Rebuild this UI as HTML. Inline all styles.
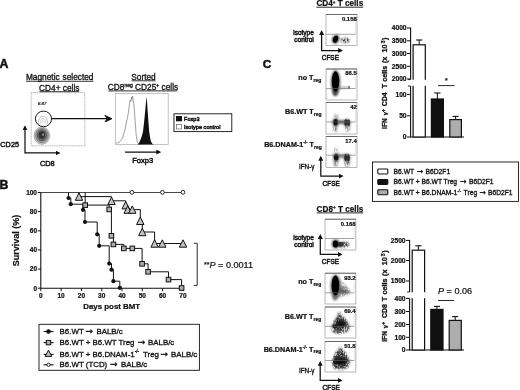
<!DOCTYPE html>
<html><head><meta charset="utf-8"><title>Figure</title>
<style>
html,body{margin:0;padding:0;background:#fff;}
body{width:520px;height:390px;overflow:hidden;}
svg{display:block;filter:blur(0.35px);font-family:"Liberation Sans",sans-serif;fill:#111;}
text{stroke:#111;stroke-width:0.22px;}
.sb{stroke-width:0.45px;}
.sl{stroke-width:0.32px;}
.yl{stroke-width:0.3px;}
.pl{stroke-width:0.5px;}
.ar{font-family:"DejaVu Sans",sans-serif;stroke-width:0.3px;font-size:1.15em;}
.b{font-weight:bold}
.u{text-decoration:underline}
</style></head><body>
<svg width="520" height="390" viewBox="0 0 520 390">
<defs>
<filter id="bl1" x="-50%" y="-50%" width="200%" height="200%"><feGaussianBlur stdDeviation="0.9"/></filter>
<filter id="bl2" x="-50%" y="-50%" width="200%" height="200%"><feGaussianBlur stdDeviation="1.8"/></filter>
<filter id="bl0" x="-50%" y="-50%" width="200%" height="200%"><feGaussianBlur stdDeviation="0.45"/></filter>
<filter id="gr" x="-50%" y="-50%" width="200%" height="200%"><feGaussianBlur stdDeviation="0.8" result="b"/><feTurbulence type="fractalNoise" baseFrequency="1.1 0.45" numOctaves="2" seed="7" result="n"/><feColorMatrix in="n" type="matrix" values="0 0 0 0 0  0 0 0 0 0  0 0 0 0 0  0 0 0 2.2 -0.45" result="na"/><feComposite in="b" in2="na" operator="in"/></filter>
<marker id="ah" viewBox="0 0 10 10" refX="6" refY="5" markerWidth="5" markerHeight="5" orient="auto-start-reverse" markerUnits="userSpaceOnUse"><path d="M0,0 L10,5 L0,10 z" fill="#111"/></marker>
<marker id="ah2" viewBox="0 0 10 10" refX="9" refY="5" markerWidth="7.5" markerHeight="7.5" orient="auto-start-reverse" markerUnits="userSpaceOnUse"><path d="M0.5,0.5 L10,5 L0.5,9.5 L3.6,5 z" fill="#111" stroke="#111" stroke-width="1.1" stroke-linejoin="round"/></marker>
</defs>
<rect width="520" height="390" fill="#fff"/>

<!-- ============ PANEL A ============ -->
<g id="panelA">
<text x="-0.6" y="68.1" class="b pl" font-size="12.3">A</text>
<text x="59.7" y="80.1" font-size="8.3" text-anchor="middle" class="sl" word-spacing="0.6">Magnetic selected</text>
<line x1="26" y1="81.3" x2="93.4" y2="81.3" stroke="#111" stroke-width="0.85"/>
<text x="59.3" y="90.6" font-size="8.3" text-anchor="middle" class="sl">CD4+ cells</text>
<line x1="39.4" y1="91.7" x2="79.2" y2="91.7" stroke="#111" stroke-width="0.85"/>
<rect x="31.2" y="92.6" width="53.6" height="53.2" fill="none" stroke="#999" stroke-width="0.7" stroke-dasharray="1.2 0.6"/>
<text x="38" y="104.6" font-size="4.3" font-style="italic">8.87</text>
<!-- lower population -->
<g>
<ellipse cx="41.9" cy="135.6" rx="7.9" ry="8.8" fill="#c4c4c4" stroke="#888" stroke-width="0.5"/>
<ellipse cx="41.9" cy="135.5" rx="6.4" ry="7.2" fill="#999" stroke="#666" stroke-width="0.5"/>
<ellipse cx="41.9" cy="135.3" rx="4.8" ry="5.6" fill="#666" stroke="#444" stroke-width="0.5"/>
<ellipse cx="41.9" cy="135.1" rx="3.2" ry="3.8" fill="#333"/>
<ellipse cx="43" cy="134.7" rx="0.7" ry="1.1" fill="#ccc"/>
</g>
<!-- gate population -->
<path d="M38.3,123.9 C38.3,113.8 47.6,113.8 47.6,123.9" fill="none" stroke="#999" stroke-width="0.6"/>
<path d="M40.3,123.6 C40.3,116.6 45.5,116.6 45.5,123.6" fill="none" stroke="#aaa" stroke-width="0.5"/>
<path d="M41.8,123 C41.8,119.5 44.2,119.5 44.2,123" fill="none" stroke="#bbb" stroke-width="0.5"/>
<ellipse cx="43.5" cy="118.9" rx="8.1" ry="7.8" fill="none" stroke="#111" stroke-width="0.95"/>
<line x1="51.6" y1="118.7" x2="111.2" y2="118.7" stroke="#111" stroke-width="1.25" marker-end="url(#ah2)"/>
<!-- axes -->
<polyline points="25,127.3 25,152.9 58.5,152.9" fill="none" stroke="#111" stroke-width="1.25" marker-start="url(#ah)" marker-end="url(#ah)"/>
<text x="0.3" y="146.9" font-size="7.35" class="sb">CD25</text>
<text x="40" y="165.8" font-size="7.35" class="sb">CD8</text>

<text x="143.5" y="79.6" font-size="8.3" text-anchor="middle" class="sl">Sorted</text>
<line x1="131.6" y1="80.8" x2="155.4" y2="80.8" stroke="#111" stroke-width="0.85"/>
<text x="143" y="90" font-size="8.3" text-anchor="middle" class="sl">CD8<tspan font-size="5" dy="-2.6">neg</tspan><tspan dy="2.6"> CD25</tspan><tspan font-size="5" dy="-2.6">+</tspan><tspan dy="2.6"> cells</tspan></text>
<line x1="108.3" y1="90.9" x2="177.3" y2="90.9" stroke="#111" stroke-width="0.9"/>
<rect x="115.6" y="93.6" width="52.6" height="51" fill="none" stroke="#aaa" stroke-width="0.7"/>
<!-- isotype histogram -->
<path d="M116,143.3 L117.5,142.6 L118.6,143 L120,141.2 L121.5,139.6 L122.6,138 L123.6,134 L124.6,131.5 L125.4,128 L126.4,122 L127.4,118.5 L128.4,112 L129.4,105 L130.2,100 L130.8,101.5 L131.4,97 L132,99.5 L132.6,96 L133.2,101 L133.8,104 L134.6,113 L135.3,123 L136,133 L136.8,139.5 L137.7,143 L139.5,144 L142,144.2" fill="none" stroke="#888" stroke-width="0.8"/>
<!-- foxp3 histogram -->
<path d="M137.5,144.4 L138.8,143.5 L140.8,139 L142,135.5 L143,131.5 L144,123 L145,113 L145.8,104 L146.6,96.8 L147.2,104 L147.8,113 L148.5,123 L149.2,131.5 L150,137 L150.8,141 L152.3,143.8 L154,144.4 z" fill="#111"/>
<line x1="125" y1="152.1" x2="159.3" y2="152.1" stroke="#111" stroke-width="1.25" marker-end="url(#ah)"/>
<text x="142.7" y="162.6" font-size="7.6" text-anchor="middle" class="sb">Foxp3</text>
<rect x="174" y="113.8" width="57.8" height="17.8" fill="#fff" stroke="#111" stroke-width="0.9"/>
<rect x="176" y="116" width="6" height="5.3" fill="#111"/>
<rect x="176.6" y="124.4" width="5" height="4.6" fill="#fff" stroke="#666" stroke-width="0.7"/>
<text x="184" y="121.3" font-size="5.6" class="sb">Foxp3</text>
<text x="184" y="129.3" font-size="5.6" class="sb">Isotype control</text>
</g>
<!-- ============ PANEL B ============ -->
<g id="panelB">
<text x="-0.4" y="189.2" class="b pl" font-size="12.3">B</text>
<path d="M40.8,192.0 V288.2 H183.4" fill="none" stroke="#111" stroke-width="1.1"/>
<line x1="37.8" y1="288.2" x2="40.8" y2="288.2" stroke="#111" stroke-width="1"/>
<text x="37.0" y="290.5" font-size="6.5" class="b" text-anchor="end">0</text>
<line x1="37.8" y1="269.1" x2="40.8" y2="269.1" stroke="#111" stroke-width="1"/>
<text x="37.0" y="271.40000000000003" font-size="6.5" class="b" text-anchor="end">20</text>
<line x1="37.8" y1="249.9" x2="40.8" y2="249.9" stroke="#111" stroke-width="1"/>
<text x="37.0" y="252.20000000000002" font-size="6.5" class="b" text-anchor="end">40</text>
<line x1="37.8" y1="230.8" x2="40.8" y2="230.8" stroke="#111" stroke-width="1"/>
<text x="37.0" y="233.10000000000002" font-size="6.5" class="b" text-anchor="end">60</text>
<line x1="37.8" y1="211.6" x2="40.8" y2="211.6" stroke="#111" stroke-width="1"/>
<text x="37.0" y="213.9" font-size="6.5" class="b" text-anchor="end">80</text>
<line x1="37.8" y1="192.5" x2="40.8" y2="192.5" stroke="#111" stroke-width="1"/>
<text x="37.0" y="194.8" font-size="6.5" class="b" text-anchor="end">100</text>
<line x1="40.8" y1="288.2" x2="40.8" y2="291.2" stroke="#111" stroke-width="1"/>
<text x="40.8" y="298.2" font-size="6.5" class="b" text-anchor="middle">0</text>
<line x1="61.1" y1="288.2" x2="61.1" y2="291.2" stroke="#111" stroke-width="1"/>
<text x="61.1" y="298.2" font-size="6.5" class="b" text-anchor="middle">10</text>
<line x1="81.4" y1="288.2" x2="81.4" y2="291.2" stroke="#111" stroke-width="1"/>
<text x="81.4" y="298.2" font-size="6.5" class="b" text-anchor="middle">20</text>
<line x1="101.7" y1="288.2" x2="101.7" y2="291.2" stroke="#111" stroke-width="1"/>
<text x="101.7" y="298.2" font-size="6.5" class="b" text-anchor="middle">30</text>
<line x1="122.0" y1="288.2" x2="122.0" y2="291.2" stroke="#111" stroke-width="1"/>
<text x="122.0" y="298.2" font-size="6.5" class="b" text-anchor="middle">40</text>
<line x1="142.3" y1="288.2" x2="142.3" y2="291.2" stroke="#111" stroke-width="1"/>
<text x="142.3" y="298.2" font-size="6.5" class="b" text-anchor="middle">50</text>
<line x1="162.6" y1="288.2" x2="162.6" y2="291.2" stroke="#111" stroke-width="1"/>
<text x="162.6" y="298.2" font-size="6.5" class="b" text-anchor="middle">60</text>
<line x1="182.9" y1="288.2" x2="182.9" y2="291.2" stroke="#111" stroke-width="1"/>
<text x="182.9" y="298.2" font-size="6.5" class="b" text-anchor="middle">70</text>
<text transform="translate(19.2,240.4) rotate(-90)" font-size="9" class="b" text-anchor="middle">Survival (%)</text>
<text x="111.7" y="308.8" font-size="7.9" class="b" text-anchor="middle">Days post BMT</text>
<path d="M40.8,192.5 H183" fill="none" stroke="#333" stroke-width="0.9"/>
<path d="M79,192.5 V196.6 H111.5 V200.8 H125.7 V205.2 H127.7 V209.6 H140.3 V220.8 H142.3 V232 H154.6 V243.5 H183" fill="none" stroke="#111" stroke-width="1.0"/>
<path d="M85.2,192.5 V205.1 H109.2 V209.4 H111.4 V235.8 H113.4 V244.4 H123.8 V248.4 H142.1 V263.8 H148.1 V271.8 H168.5 V279.6 H181.6 V288" fill="none" stroke="#111" stroke-width="1.0"/>
<path d="M68.5,192.5 V198 H70.8 V204.2 H83 V209.8 H85 V222 H97.2 V234.3 H99.2 V245.8 H109.2 V263.6 H111.5 V269.7 H113.4 V281.2 H119.8 V287.8" fill="none" stroke="#111" stroke-width="1.0"/>
<circle cx="68.5" cy="198" r="2.1" fill="#111"/><circle cx="70.8" cy="204.2" r="2.1" fill="#111"/><circle cx="83" cy="209.8" r="2.1" fill="#111"/><circle cx="85" cy="222" r="2.1" fill="#111"/><circle cx="97.2" cy="234.3" r="2.1" fill="#111"/><circle cx="99.2" cy="245.8" r="2.1" fill="#111"/><circle cx="109.2" cy="263.6" r="2.1" fill="#111"/><circle cx="111.5" cy="269.7" r="2.1" fill="#111"/><circle cx="113.4" cy="281.2" r="2.1" fill="#111"/><circle cx="119.8" cy="287.8" r="2.1" fill="#111"/>
<rect x="82.9" y="202.8" width="4.6" height="4.6" fill="#b0b0b0" stroke="#111" stroke-width="1"/><rect x="106.9" y="207.1" width="4.6" height="4.6" fill="#b0b0b0" stroke="#111" stroke-width="1"/><rect x="109.1" y="233.5" width="4.6" height="4.6" fill="#b0b0b0" stroke="#111" stroke-width="1"/><rect x="111.1" y="242.1" width="4.6" height="4.6" fill="#b0b0b0" stroke="#111" stroke-width="1"/><rect x="121.5" y="246.1" width="4.6" height="4.6" fill="#b0b0b0" stroke="#111" stroke-width="1"/><rect x="130.0" y="246.1" width="4.6" height="4.6" fill="#b0b0b0" stroke="#111" stroke-width="1"/><rect x="139.8" y="261.5" width="4.6" height="4.6" fill="#b0b0b0" stroke="#111" stroke-width="1"/><rect x="145.8" y="269.5" width="4.6" height="4.6" fill="#b0b0b0" stroke="#111" stroke-width="1"/><rect x="166.2" y="277.3" width="4.6" height="4.6" fill="#b0b0b0" stroke="#111" stroke-width="1"/><rect x="179.3" y="285.7" width="4.6" height="4.6" fill="#b0b0b0" stroke="#111" stroke-width="1"/>
<path d="M79,192.9 L82.7,200.3 L75.3,200.3 z" fill="#c2c2c2" stroke="#111" stroke-width="1" stroke-linejoin="miter"/><path d="M111.5,197.1 L115.2,204.5 L107.8,204.5 z" fill="#c2c2c2" stroke="#111" stroke-width="1" stroke-linejoin="miter"/><path d="M125.7,201.5 L129.4,208.9 L122.0,208.9 z" fill="#c2c2c2" stroke="#111" stroke-width="1" stroke-linejoin="miter"/><path d="M127.7,205.9 L131.4,213.3 L124.0,213.3 z" fill="#c2c2c2" stroke="#111" stroke-width="1" stroke-linejoin="miter"/><path d="M132.3,205.9 L136.0,213.3 L128.6,213.3 z" fill="#c2c2c2" stroke="#111" stroke-width="1" stroke-linejoin="miter"/><path d="M140.3,217.1 L144.0,224.5 L136.6,224.5 z" fill="#c2c2c2" stroke="#111" stroke-width="1" stroke-linejoin="miter"/><path d="M142.3,228.3 L146.0,235.7 L138.6,235.7 z" fill="#c2c2c2" stroke="#111" stroke-width="1" stroke-linejoin="miter"/><path d="M154.6,239.8 L158.3,247.2 L150.9,247.2 z" fill="#c2c2c2" stroke="#111" stroke-width="1" stroke-linejoin="miter"/><path d="M162.3,239.8 L166.0,247.2 L158.6,247.2 z" fill="#c2c2c2" stroke="#111" stroke-width="1" stroke-linejoin="miter"/><path d="M183,239.8 L186.7,247.2 L179.3,247.2 z" fill="#c2c2c2" stroke="#111" stroke-width="1" stroke-linejoin="miter"/>
<circle cx="131.9" cy="192.3" r="1.9" fill="#fff" stroke="#111" stroke-width="0.9"/><circle cx="162.4" cy="192.3" r="1.9" fill="#fff" stroke="#111" stroke-width="0.9"/><circle cx="183" cy="192.3" r="1.9" fill="#fff" stroke="#111" stroke-width="0.9"/>
<path d="M193.8,243.3 H197.2 V285.4 H193.8" fill="none" stroke="#111" stroke-width="0.9"/>
<text x="204" y="268" font-size="9.1"><tspan font-size="7" dy="-1">**</tspan><tspan font-style="italic" dy="1">P</tspan> = 0.0011</text>
<rect x="39" y="324.3" width="160.4" height="46" fill="#fff" stroke="#111" stroke-width="0.9"/>
<line x1="43.6" y1="331.5" x2="53.6" y2="331.5" stroke="#111" stroke-width="1.1"/><circle cx="48.5" cy="331.5" r="2.3" fill="#111"/>
<line x1="43.6" y1="342.6" x2="53.6" y2="342.6" stroke="#111" stroke-width="1.1"/><rect x="46.3" y="340.40000000000003" width="4.4" height="4.4" fill="#b0b0b0" stroke="#111" stroke-width="1"/>
<line x1="43.6" y1="354.40000000000003" x2="53.6" y2="354.40000000000003" stroke="#111" stroke-width="1.1"/><path d="M48.5,350.20000000000005 L51.8,356.40000000000003 L45.2,356.40000000000003 z" fill="#c2c2c2" stroke="#111" stroke-width="1"/>
<line x1="43.6" y1="364.8" x2="53.6" y2="364.8" stroke="#111" stroke-width="1.1"/><circle cx="48.5" cy="364.8" r="1.6" fill="#fff" stroke="#111" stroke-width="0.9"/>
<text x="59.6" y="334.2" font-size="7.9" class="sl">B6.WT <tspan class="ar" x="85.6">→</tspan><tspan x="96.4">BALB/c</tspan></text>
<text x="59.6" y="345.2" font-size="7.9" class="sl">B6.WT + B6.WT Treg <tspan class="ar" x="137.8">→</tspan><tspan x="148">BALB/c</tspan></text>
<text x="59.6" y="356.6" font-size="7.9" class="sl">B6.WT + B6.DNAM-1<tspan font-size="4.6" dy="-3.2">-/-</tspan><tspan dy="3.2" x="143">Treg </tspan><tspan class="ar" x="160.4">→</tspan><tspan x="171">BALB/c</tspan></text>
<text x="59.6" y="367.2" font-size="7.9" class="sl">B6.WT (TCD) <tspan class="ar" x="109.9">→</tspan><tspan x="121">BALB/c</tspan></text>
</g>
<!-- ============ PANEL C ============ -->
<g id="panelC">
<text x="262.8" y="67.5" class="b pl" font-size="11.8">C</text>
<text x="339.8" y="6" font-size="8.2" class="b" text-anchor="middle">CD4<tspan font-size="4.5" dy="-2.5">+</tspan><tspan dy="2.5"> T cells</tspan></text>
<line x1="316.4" y1="7.2" x2="363.2" y2="7.2" stroke="#111" stroke-width="0.9"/>
<text x="340" y="211.7" font-size="8.2" class="b" text-anchor="middle">CD8<tspan font-size="4.5" dy="-2.5">+</tspan><tspan dy="2.5"> T cells</tspan></text>
<line x1="316.8" y1="212.9" x2="363.2" y2="212.9" stroke="#111" stroke-width="0.9"/>
<g><rect x="326" y="14.5" width="31" height="31.0" fill="#fff"/><clipPath id="cp14"><rect x="326" y="14.5" width="31" height="31.0"/></clipPath><g clip-path="url(#cp14)"><g filter="url(#bl1)"><ellipse cx="335.6" cy="39.3" rx="3.6" ry="4.6" fill="#555" transform="rotate(20 335.6 39.3)"/></g><g filter="url(#gr)"><ellipse cx="345.3" cy="40.3" rx="4.6" ry="2.6" fill="#444"/></g><g filter="url(#bl0)"><ellipse cx="335.5" cy="39.2" rx="2.5" ry="3.6" fill="#000" transform="rotate(20 335.5 39.2)"/></g></g><line x1="326" y1="34.3" x2="355.5" y2="34.3" stroke="#666" stroke-width="0.6"/><line x1="355.4" y1="22.5" x2="355.4" y2="34.3" stroke="#bbb" stroke-width="0.4"/><rect x="326" y="14.5" width="31" height="31.0" fill="none" stroke="#888" stroke-width="0.6"/><line x1="326" y1="14.5" x2="357" y2="14.5" stroke="#555" stroke-width="0.8"/><text x="356.7" y="21.0" font-size="5.9" class="b" text-anchor="end">0.158</text></g>
<g><rect x="326" y="69" width="31" height="31" fill="#fff"/><clipPath id="cp69"><rect x="326" y="69" width="31" height="31"/></clipPath><g clip-path="url(#cp69)"><g filter="url(#bl1)"><ellipse cx="344" cy="87.6" rx="5.5" ry="1.2" fill="#aaa"/></g><g filter="url(#bl0)"><ellipse cx="349" cy="87.2" rx="1" ry="1.5" fill="#777"/></g><g filter="url(#bl1)"><ellipse cx="335.6" cy="82.5" rx="4.8" ry="12.5" fill="#666"/></g><g filter="url(#bl1)"><ellipse cx="335.2" cy="92" rx="2.4" ry="4" fill="#444"/></g><g filter="url(#bl0)"><ellipse cx="335.5" cy="81.5" rx="3.7" ry="10.3" fill="#000"/></g><g filter="url(#bl0)"><ellipse cx="335.5" cy="81.5" rx="3" ry="9.5" fill="#000"/></g></g><line x1="326" y1="88.5" x2="355.5" y2="88.5" stroke="#666" stroke-width="0.6"/><line x1="355.4" y1="77" x2="355.4" y2="88.5" stroke="#bbb" stroke-width="0.4"/><rect x="326" y="69" width="31" height="31" fill="none" stroke="#888" stroke-width="0.6"/><line x1="326" y1="69" x2="357" y2="69" stroke="#555" stroke-width="0.8"/><text x="356.7" y="75.0" font-size="5.9" class="b" text-anchor="end">86.5</text></g>
<g><rect x="326" y="102.5" width="31" height="31.5" fill="#fff"/><clipPath id="cp102"><rect x="326" y="102.5" width="31" height="31.5"/></clipPath><g clip-path="url(#cp102)"><g filter="url(#gr)"><ellipse cx="336" cy="117" rx="2.2" ry="3.5" fill="#aaa"/></g><g filter="url(#gr)"><ellipse cx="347.5" cy="128" rx="2.6" ry="3.5" fill="#888"/></g><g filter="url(#gr)"><ellipse cx="335.3" cy="128" rx="2" ry="4" fill="#777"/></g><g filter="url(#bl1)"><ellipse cx="341" cy="122" rx="8.5" ry="2" fill="#666"/></g><g filter="url(#bl1)"><ellipse cx="335.6" cy="122.6" rx="3" ry="4" fill="#666"/></g><g filter="url(#bl1)"><ellipse cx="347.2" cy="123" rx="3.2" ry="4" fill="#666"/></g><g filter="url(#bl0)"><ellipse cx="345.8" cy="122.6" rx="1.4" ry="3.3" fill="#2a2a2a"/></g><g filter="url(#bl0)"><ellipse cx="348.6" cy="122.8" rx="1.3" ry="3.3" fill="#2a2a2a"/></g><g filter="url(#bl0)"><ellipse cx="335.6" cy="122.2" rx="2.2" ry="3.3" fill="#222"/></g><g filter="url(#bl0)"><ellipse cx="335.6" cy="122.4" rx="1.6" ry="2.6" fill="#111"/></g></g><line x1="326" y1="122" x2="355.5" y2="122" stroke="#666" stroke-width="0.6"/><line x1="355.4" y1="110.5" x2="355.4" y2="122" stroke="#bbb" stroke-width="0.4"/><rect x="326" y="102.5" width="31" height="31.5" fill="none" stroke="#888" stroke-width="0.6"/><line x1="326" y1="102.5" x2="357" y2="102.5" stroke="#555" stroke-width="0.8"/><text x="356.7" y="108.5" font-size="5.9" class="b" text-anchor="end">42</text></g>
<g><rect x="326" y="136.5" width="31" height="31.0" fill="#fff"/><clipPath id="cp136"><rect x="326" y="136.5" width="31" height="31.0"/></clipPath><g clip-path="url(#cp136)"><g filter="url(#gr)"><ellipse cx="336" cy="151" rx="2.2" ry="3.5" fill="#aaa"/></g><g filter="url(#bl1)"><ellipse cx="341" cy="156" rx="8.5" ry="1.8" fill="#777"/></g><g filter="url(#bl1)"><ellipse cx="336.2" cy="157.8" rx="3" ry="4.2" fill="#666"/></g><g filter="url(#bl1)"><ellipse cx="347" cy="158" rx="3.2" ry="4.2" fill="#666"/></g><g filter="url(#gr)"><ellipse cx="335.8" cy="163" rx="2" ry="3.6" fill="#666"/></g><g filter="url(#gr)"><ellipse cx="347.3" cy="163.2" rx="2.6" ry="3.6" fill="#666"/></g><g filter="url(#bl0)"><ellipse cx="345.7" cy="157.6" rx="1.4" ry="3.5" fill="#2a2a2a"/></g><g filter="url(#bl0)"><ellipse cx="348.4" cy="157.8" rx="1.3" ry="3.5" fill="#2a2a2a"/></g><g filter="url(#bl0)"><ellipse cx="336.2" cy="157.3" rx="2.3" ry="3.3" fill="#222"/></g><g filter="url(#bl0)"><ellipse cx="336.2" cy="157.3" rx="1.6" ry="2.6" fill="#111"/></g></g><line x1="326" y1="155.2" x2="355.5" y2="155.2" stroke="#666" stroke-width="0.6"/><line x1="355.4" y1="144.5" x2="355.4" y2="155.2" stroke="#bbb" stroke-width="0.4"/><rect x="326" y="136.5" width="31" height="31.0" fill="none" stroke="#888" stroke-width="0.6"/><line x1="326" y1="136.5" x2="357" y2="136.5" stroke="#555" stroke-width="0.8"/><text x="356.7" y="142.5" font-size="5.9" class="b" text-anchor="end">17.4</text></g>
<text x="313.8" y="34.6" font-size="6.5" class="sb" text-anchor="end">isotype</text>
<text x="313.8" y="42" font-size="6.5" class="sb" text-anchor="end">control</text>
<polyline points="321.6,32 321.6,50.5 341.2,50.5" fill="none" stroke="#111" stroke-width="1.25" marker-start="url(#ah)" marker-end="url(#ah)"/>
<text x="321.7" y="60.3" font-size="6.5" class="sb">CFSE</text>
<text x="321.3" y="79.8" font-size="7.2" class="b" text-anchor="end">no T<tspan font-size="5" dy="1.8">reg</tspan></text>
<text x="321.5" y="113.8" font-size="7.2" class="b" text-anchor="end">B6.WT T<tspan font-size="5" dy="1.8">reg</tspan></text>
<text x="321.8" y="147.4" font-size="7.2" class="b" text-anchor="end">B6.DNAM-1<tspan font-size="4.6" dy="-3">-/-</tspan><tspan dy="3"> T</tspan><tspan font-size="5" dy="1.8">reg</tspan></text>
<polyline points="320.8,157.8 320.8,176.1 341.6,176.1" fill="none" stroke="#111" stroke-width="1.25" marker-start="url(#ah)" marker-end="url(#ah)"/>
<text x="299" y="169" font-size="6.3" class="sl">IFN-γ</text>
<text x="322.5" y="186.4" font-size="6.5" class="sb">CFSE</text>
<g><rect x="325" y="219.2" width="30.9" height="30.8" fill="#fff"/><clipPath id="cp219"><rect x="325" y="219.2" width="30.9" height="30.8"/></clipPath><g clip-path="url(#cp219)"><g filter="url(#bl1)"><ellipse cx="335.6" cy="244" rx="3.8" ry="4.4" fill="#555"/></g><g filter="url(#gr)"><ellipse cx="343" cy="244.5" rx="6.5" ry="3" fill="#333"/></g><g filter="url(#bl0)"><ellipse cx="340.5" cy="244.3" rx="3" ry="2.4" fill="#333"/></g><g filter="url(#bl0)"><ellipse cx="335.5" cy="244" rx="2.7" ry="3.4" fill="#000"/></g></g><line x1="325" y1="238.5" x2="354.4" y2="238.5" stroke="#666" stroke-width="0.6"/><line x1="354.29999999999995" y1="227.2" x2="354.29999999999995" y2="238.5" stroke="#bbb" stroke-width="0.4"/><rect x="325" y="219.2" width="30.9" height="30.8" fill="none" stroke="#888" stroke-width="0.6"/><line x1="325" y1="219.2" x2="355.9" y2="219.2" stroke="#555" stroke-width="0.8"/><text x="355.59999999999997" y="225.8" font-size="5.9" class="b" text-anchor="end">0.168</text></g>
<g><rect x="325" y="273.2" width="30.9" height="30.8" fill="#fff"/><clipPath id="cp273"><rect x="325" y="273.2" width="30.9" height="30.8"/></clipPath><g clip-path="url(#cp273)"><polygon points="337,277 350,290 350,294 337,298" fill="#888" filter="url(#gr)"/><g filter="url(#bl1)"><ellipse cx="340.5" cy="290" rx="3" ry="3" fill="#777"/></g><g filter="url(#bl1)"><ellipse cx="335" cy="297" rx="2.4" ry="3.5" fill="#777"/></g><g filter="url(#bl1)"><ellipse cx="335.5" cy="286.5" rx="5" ry="12" fill="#666"/></g><g filter="url(#bl1)"><ellipse cx="343" cy="291.3" rx="6" ry="1.6" fill="#555"/></g><g filter="url(#bl0)"><ellipse cx="335.4" cy="285.5" rx="3.8" ry="10" fill="#000"/></g><g filter="url(#bl0)"><ellipse cx="335.4" cy="285.5" rx="3" ry="9.3" fill="#000"/></g></g><line x1="325" y1="292.8" x2="354.4" y2="292.8" stroke="#666" stroke-width="0.6"/><line x1="354.29999999999995" y1="281.2" x2="354.29999999999995" y2="292.8" stroke="#bbb" stroke-width="0.4"/><rect x="325" y="273.2" width="30.9" height="30.8" fill="none" stroke="#888" stroke-width="0.6"/><line x1="325" y1="273.2" x2="355.9" y2="273.2" stroke="#555" stroke-width="0.8"/><text x="355.59999999999997" y="279.8" font-size="5.9" class="b" text-anchor="end">93.2</text></g>
<g><rect x="325" y="307" width="30.9" height="31" fill="#fff"/><clipPath id="cp307"><rect x="325" y="307" width="30.9" height="31"/></clipPath><g clip-path="url(#cp307)"><g filter="url(#gr)"><ellipse cx="339" cy="331" rx="5.5" ry="3" fill="#666"/></g><polygon points="330.5,327 335,320 339,311.5 344,318 350.5,326.5 347.5,332 334,333" fill="#333" filter="url(#gr)"/><g filter="url(#bl1)"><ellipse cx="340.8" cy="323.5" rx="5.5" ry="3.8" fill="#333"/></g><g filter="url(#gr)"><ellipse cx="340.8" cy="323" rx="6.5" ry="5" fill="#2a2a2a"/></g><g filter="url(#bl0)"><ellipse cx="335" cy="326.5" rx="2.5" ry="2" fill="#222"/></g><g filter="url(#bl1)"><ellipse cx="340.5" cy="324.5" rx="4" ry="2.5" fill="#111"/></g></g><line x1="325" y1="326.3" x2="354.4" y2="326.3" stroke="#666" stroke-width="0.6"/><line x1="354.29999999999995" y1="315" x2="354.29999999999995" y2="326.3" stroke="#bbb" stroke-width="0.4"/><rect x="325" y="307" width="30.9" height="31" fill="none" stroke="#888" stroke-width="0.6"/><line x1="325" y1="307" x2="355.9" y2="307" stroke="#555" stroke-width="0.8"/><text x="355.59999999999997" y="313.0" font-size="5.9" class="b" text-anchor="end">69.4</text></g>
<g><rect x="325" y="341.5" width="30.9" height="30.5" fill="#fff"/><clipPath id="cp341"><rect x="325" y="341.5" width="30.9" height="30.5"/></clipPath><g clip-path="url(#cp341)"><g filter="url(#gr)"><ellipse cx="340" cy="366.5" rx="6.5" ry="3.5" fill="#555"/></g><g filter="url(#bl1)"><ellipse cx="340.5" cy="360.5" rx="6" ry="4.5" fill="#3a3a3a"/></g><polygon points="331.5,361 336,353 340,346 345,353 350.5,361 348,368 333.5,368" fill="#333" filter="url(#gr)"/><g filter="url(#gr)"><ellipse cx="340.5" cy="358" rx="6.5" ry="7" fill="#2a2a2a"/></g><g filter="url(#bl0)"><ellipse cx="335.5" cy="362" rx="2.5" ry="2.5" fill="#222"/></g><g filter="url(#bl1)"><ellipse cx="340.5" cy="361.8" rx="6" ry="2.8" fill="#111"/></g></g><line x1="325" y1="360.5" x2="354.4" y2="360.5" stroke="#666" stroke-width="0.6"/><line x1="354.29999999999995" y1="349.5" x2="354.29999999999995" y2="360.5" stroke="#bbb" stroke-width="0.4"/><rect x="325" y="341.5" width="30.9" height="30.5" fill="none" stroke="#888" stroke-width="0.6"/><line x1="325" y1="341.5" x2="355.9" y2="341.5" stroke="#555" stroke-width="0.8"/><text x="355.59999999999997" y="347.5" font-size="5.9" class="b" text-anchor="end">51.8</text></g>
<text x="313.8" y="240.2" font-size="6.5" class="sb" text-anchor="end">isotype</text>
<text x="313.8" y="247" font-size="6.5" class="sb" text-anchor="end">control</text>
<polyline points="320.3,236 320.3,254.4 340.6,254.4" fill="none" stroke="#111" stroke-width="1.25" marker-start="url(#ah)" marker-end="url(#ah)"/>
<text x="321.8" y="263.8" font-size="6.5" class="sb">CFSE</text>
<text x="321.2" y="284.3" font-size="7.2" class="b" text-anchor="end">no T<tspan font-size="5" dy="1.8">reg</tspan></text>
<text x="321.3" y="318.7" font-size="7.2" class="b" text-anchor="end">B6.WT T<tspan font-size="5" dy="1.8">reg</tspan></text>
<text x="321.3" y="351.5" font-size="7.2" class="b" text-anchor="end">B6.DNAM-1<tspan font-size="4.6" dy="-3">-/-</tspan><tspan dy="3"> T</tspan><tspan font-size="5" dy="1.8">reg</tspan></text>
<polyline points="320.2,362.8 320.2,380.4 340.6,380.4" fill="none" stroke="#111" stroke-width="1.25" marker-start="url(#ah)" marker-end="url(#ah)"/>
<text x="299" y="372.8" font-size="6.3" class="sl">IFN-γ</text>
<text x="322.5" y="390.3" font-size="6.5" class="sb">CFSE</text>
<path d="M410.6,27.5 V79.6 M410.6,86 V137 H464" fill="none" stroke="#111" stroke-width="1.1"/><path d="M408.0,79.6 H410.6 M408.0,86 H410.6" fill="none" stroke="#111" stroke-width="0.9"/><line x1="407.0" y1="28" x2="410.6" y2="28" stroke="#111" stroke-width="1"/><text x="406.6" y="30.4" font-size="6.7" class="b" text-anchor="end">4000</text><line x1="407.0" y1="40.8" x2="410.6" y2="40.8" stroke="#111" stroke-width="1"/><text x="406.6" y="43.2" font-size="6.7" class="b" text-anchor="end">3500</text><line x1="407.0" y1="53.5" x2="410.6" y2="53.5" stroke="#111" stroke-width="1"/><text x="406.6" y="55.9" font-size="6.7" class="b" text-anchor="end">3000</text><line x1="407.0" y1="66.3" x2="410.6" y2="66.3" stroke="#111" stroke-width="1"/><text x="406.6" y="68.7" font-size="6.7" class="b" text-anchor="end">2500</text><line x1="407.0" y1="79" x2="410.6" y2="79" stroke="#111" stroke-width="1"/><text x="406.6" y="81.4" font-size="6.7" class="b" text-anchor="end">2000</text><line x1="407.0" y1="94.4" x2="410.6" y2="94.4" stroke="#111" stroke-width="1"/><text x="406.6" y="96.8" font-size="6.7" class="b" text-anchor="end">100</text><line x1="407.0" y1="115.8" x2="410.6" y2="115.8" stroke="#111" stroke-width="1"/><text x="406.6" y="118.2" font-size="6.7" class="b" text-anchor="end">50</text><line x1="407.0" y1="137" x2="410.6" y2="137" stroke="#111" stroke-width="1"/><text x="406.6" y="139.4" font-size="6.7" class="b" text-anchor="end">0</text>
<line x1="419.2" y1="40" x2="419.2" y2="44.8" stroke="#111" stroke-width="1"/><line x1="416.1" y1="40" x2="422.3" y2="40" stroke="#111" stroke-width="1.1"/><rect x="413.1" y="44.8" width="12.2" height="92.2" fill="#fff" stroke="#111" stroke-width="1.2"/><rect x="412.1" y="79.8" width="14.2" height="6.0" fill="#fff"/>
<line x1="437.4" y1="93" x2="437.4" y2="99" stroke="#111" stroke-width="1"/><line x1="434.3" y1="93" x2="440.5" y2="93" stroke="#111" stroke-width="1.1"/><rect x="431.4" y="99" width="12.0" height="38" fill="#111" stroke="#111" stroke-width="1.2"/>
<line x1="455.6" y1="116.4" x2="455.6" y2="119.6" stroke="#111" stroke-width="1"/><line x1="452.5" y1="116.4" x2="458.7" y2="116.4" stroke="#111" stroke-width="1.1"/><rect x="449.8" y="119.6" width="11.6" height="17.4" fill="#adadad" stroke="#111" stroke-width="1.2"/>
<line x1="438" y1="85.6" x2="454.6" y2="85.6" stroke="#111" stroke-width="0.9"/>
<text x="446.4" y="82.6" font-size="8" text-anchor="middle">*</text>
<text transform="translate(387.4,128.9) rotate(-90)" font-size="7.2" class="b yl"><tspan font-size="6.7">IFN</tspan><tspan x="13.6" font-size="6">γ</tspan><tspan font-size="5" dy="-2.8">+</tspan><tspan dy="2.8" x="22.7" font-size="6.9">CD4</tspan><tspan x="40.6">T</tspan><tspan x="47.2">cells</tspan><tspan x="65.8">(x</tspan><tspan x="76.5">10</tspan><tspan font-size="5" dy="-2.6" x="85.6">3</tspan><tspan dy="2.6" x="89">)</tspan></text>
<rect x="372.5" y="162" width="146" height="39.4" fill="#fff" stroke="#111" stroke-width="0.9"/>
<rect x="377.8" y="169.0" width="10" height="5" rx="0.9" fill="#fff" stroke="#111" stroke-width="1.1"/>
<rect x="377.8" y="179.5" width="10" height="5" rx="0.9" fill="#111" stroke="#111" stroke-width="1.1"/>
<rect x="377.8" y="189.7" width="10" height="5" rx="0.9" fill="#adadad" stroke="#111" stroke-width="1.1"/>
<text x="393.6" y="173.5" font-size="6.7" class="sl">B6.WT <tspan class="ar" x="416.7">→</tspan><tspan x="425.6">B6D2F1</tspan></text>
<text x="393.6" y="184.4" font-size="6.7" class="sl">B6.WT + B6.WT Treg <tspan class="ar" x="460">→</tspan><tspan x="469">B6D2F1</tspan></text>
<text x="393.6" y="195" font-size="6.7" class="sl">B6.WT + B6.DNAM-1<tspan font-size="4.2" dy="-2.8">-/-</tspan><tspan dy="2.8" x="463.6">Treg </tspan><tspan class="ar" x="479.4">→</tspan><tspan x="488">B6D2F1</tspan></text>
<path d="M409.6,239.9 V292 M409.6,298.4 V350 H464" fill="none" stroke="#111" stroke-width="1.1"/><path d="M407.0,292 H409.6 M407.0,298.4 H409.6" fill="none" stroke="#111" stroke-width="0.9"/><line x1="406.0" y1="240.4" x2="409.6" y2="240.4" stroke="#111" stroke-width="1"/><text x="405.6" y="242.8" font-size="6.7" class="b" text-anchor="end">2500</text><line x1="406.0" y1="260.6" x2="409.6" y2="260.6" stroke="#111" stroke-width="1"/><text x="405.6" y="263.0" font-size="6.7" class="b" text-anchor="end">2000</text><line x1="406.0" y1="281" x2="409.6" y2="281" stroke="#111" stroke-width="1"/><text x="405.6" y="283.4" font-size="6.7" class="b" text-anchor="end">1500</text><line x1="406.0" y1="298.4" x2="409.6" y2="298.4" stroke="#111" stroke-width="1"/><text x="405.6" y="300.8" font-size="6.7" class="b" text-anchor="end">400</text><line x1="406.0" y1="311.5" x2="409.6" y2="311.5" stroke="#111" stroke-width="1"/><text x="405.6" y="313.9" font-size="6.7" class="b" text-anchor="end">300</text><line x1="406.0" y1="324.4" x2="409.6" y2="324.4" stroke="#111" stroke-width="1"/><text x="405.6" y="326.8" font-size="6.7" class="b" text-anchor="end">200</text><line x1="406.0" y1="337.3" x2="409.6" y2="337.3" stroke="#111" stroke-width="1"/><text x="405.6" y="339.7" font-size="6.7" class="b" text-anchor="end">100</text><line x1="406.0" y1="350" x2="409.6" y2="350" stroke="#111" stroke-width="1"/><text x="405.6" y="352.4" font-size="6.7" class="b" text-anchor="end">0</text>
<line x1="418.4" y1="245.8" x2="418.4" y2="250.2" stroke="#111" stroke-width="1"/><line x1="415.3" y1="245.8" x2="421.5" y2="245.8" stroke="#111" stroke-width="1.1"/><rect x="412.2" y="250.2" width="12.4" height="99.8" fill="#fff" stroke="#111" stroke-width="1.2"/><rect x="411.2" y="292.2" width="14.4" height="6.0" fill="#fff"/>
<line x1="436.9" y1="306.4" x2="436.9" y2="309.4" stroke="#111" stroke-width="1"/><line x1="433.8" y1="306.4" x2="440.0" y2="306.4" stroke="#111" stroke-width="1.1"/><rect x="430.8" y="309.4" width="12.2" height="40.6" fill="#111" stroke="#111" stroke-width="1.2"/>
<line x1="455.2" y1="316.6" x2="455.2" y2="320.4" stroke="#111" stroke-width="1"/><line x1="452.1" y1="316.6" x2="458.3" y2="316.6" stroke="#111" stroke-width="1.1"/><rect x="449.2" y="320.4" width="12.1" height="29.6" fill="#adadad" stroke="#111" stroke-width="1.2"/>
<line x1="438" y1="300.5" x2="454" y2="300.5" stroke="#111" stroke-width="0.9"/>
<text x="438" y="294" font-size="9.1"><tspan font-style="italic">P</tspan> = 0.06</text>
<text transform="translate(387.4,341.8) rotate(-90)" font-size="7.2" class="b yl"><tspan font-size="6.7">IFN</tspan><tspan x="13.6" font-size="6">γ</tspan><tspan font-size="5" dy="-2.8">+</tspan><tspan dy="2.8" x="23.8" font-size="6.9">CD8</tspan><tspan x="40.6">T</tspan><tspan x="47.2">cells</tspan><tspan x="65.8">(x</tspan><tspan x="76.5">10</tspan><tspan font-size="5" dy="-2.6" x="85.6">3</tspan><tspan dy="2.6" x="89">)</tspan></text>
</g>
</svg>
</body></html>
